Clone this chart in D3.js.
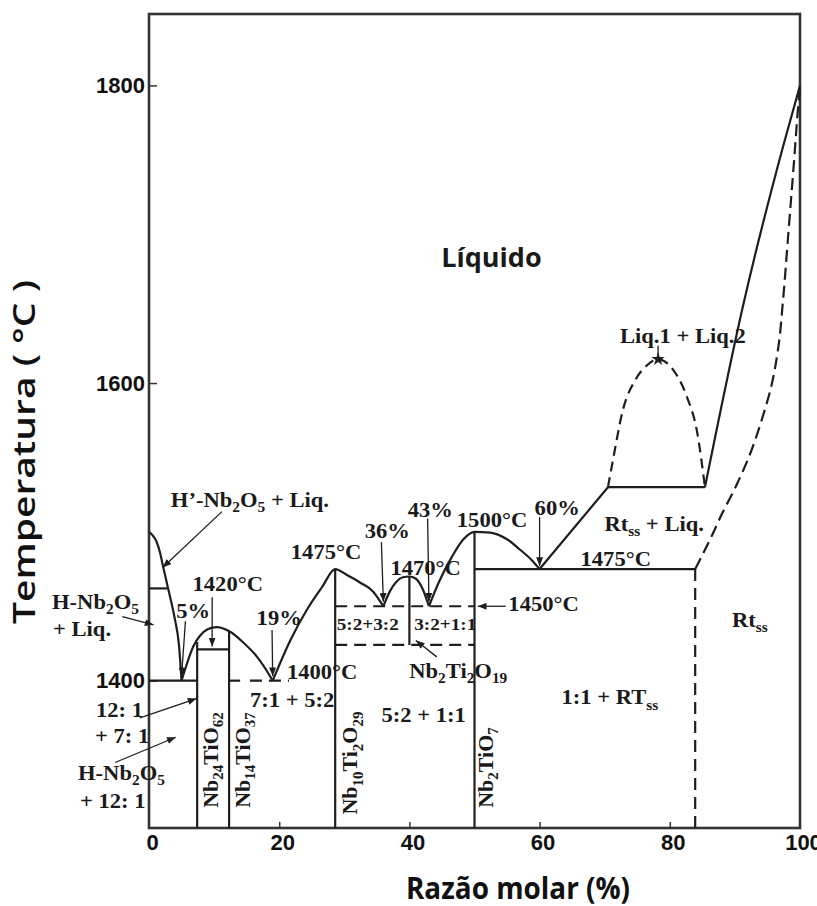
<!DOCTYPE html>
<html>
<head>
<meta charset="utf-8">
<script src="https://cdn.jsdelivr.net/npm/d3@7"></script>
<style>
  body { margin: 0; background: #fff; }
  svg { display: block; }
</style>
</head>
<body>
<svg id="chart" width="817" height="906"></svg>
<script>
// Nb2O5 – TiO2 phase diagram (composition in mol % TiO2, temperature in °C)

const xTicks = [0, 20, 40, 60, 80, 100];
const yTicks = [1400, 1600, 1800];
const xDomain = [0, 100];
const yDomain = [1301, 1848];

// liquidus branches, split at the eutectics
const liqNb2O5  = [[0,1500],[0.5,1498],[1.1,1494],[1.7,1486],[2.2,1476],[3.1,1459],[3.9,1443],[4.6,1424],[5,1400]];
const liq5to19  = [[5,1400],[5.5,1407],[6.8,1423],[7.8,1430],[9,1434.5],[10.4,1436],[12.4,1433],[14.4,1426],[16.6,1416],[18.6,1403],[19,1400]];
const liq19to36 = [[19,1400],[21.7,1427],[24.3,1448],[26.6,1463],[28.6,1475],[30.4,1471],[32.4,1466],[34.4,1460],[36,1450]];
const liq36to43 = [[36,1450],[37,1460],[38,1466.5],[39,1469.5],[40,1470],[41,1468.5],[42,1462],[43,1450]];
const liq43to60 = [[43,1450],[44.5,1466],[46.5,1483],[48.3,1495],[50,1500],[52.4,1499.5],[55,1495],[57,1488],[58.8,1481],[60,1475]];
const liq60to70 = [[60,1475],[70.5,1530]];
const liqRutile = [[85.4,1530],[91.2,1651],[97.4,1759],[100,1800]];

// liquid miscibility gap and rutile solid-solution solidus (dashed)
const missGap   = [[70.5,1530],[71.3,1549],[72.8,1582],[74.7,1602],[76.5,1612],[78.2,1616],[80.5,1609],[82.6,1591],[84.2,1567],[85.4,1530]];
const rtSolidus = [[83.9,1475],[84.6,1481],[86.2,1495],[88,1512],[90.2,1531],[92.3,1552],[94.1,1575],[95.6,1598],[96.7,1625],[97.4,1656],[98.2,1700],[99.1,1750],[99.7,1785],[100,1800]];
const criticalPoint = [78.2, 1616];

// compounds: composition, top of the line
const compoundX   = [7.4, 12.3, 28.6, 50];
const compoundTop = [1426, 1433, 1475, 1500];
const compoundNames = ["Nb_{24}TiO_{62}", "Nb_{14}TiO_{37}", "Nb_{10}Ti_{2}O_{29}", "Nb_{2}TiO_{7}"];

// isotherms and tie lines
const solidSegments = [
  [[0,1462],[2.8,1462]],
  [[0,1400],[7.4,1400]],
  [[7.4,1421],[12.3,1421]],
  [[12.3,1400],[14,1400]],
  [[40,1470],[40,1424]],
  [[50,1475],[83.9,1475]],
  [[70.5,1530],[85.4,1530]]
];
const dashedSegments = [
  [[15.5,1400],[21.5,1400]],
  [[28.6,1450],[50,1450]],
  [[28.6,1424],[50,1424]],
  [[83.9,1301],[83.9,1475]]
];

const svg = d3.select("#chart");
const x = d3.scaleLinear().domain(xDomain).range([149, 800]);
const y = d3.scaleLinear().domain(yDomain).range([828, 14]);

const ink = "#1e1e1e";
const serif = "'Liberation Serif','Times New Roman',serif";
const sans = "'Open Sans','Noto Sans',sans-serif";
const arial = "'Liberation Sans',Arial,sans-serif";

// arrowhead
svg.append("defs").append("marker")
  .attr("id", "arr").attr("viewBox", "0 0 10 8")
  .attr("refX", 10).attr("refY", 4)
  .attr("markerWidth", 9).attr("markerHeight", 7)
  .attr("markerUnits", "userSpaceOnUse").attr("orient", "auto")
  .append("path").attr("d", "M0,0L10,4L0,8Z").attr("fill", ink);

const line = d3.line().x(d => x(d[0])).y(d => y(d[1]));
const smooth = d3.line().x(d => x(d[0])).y(d => y(d[1])).curve(d3.curveMonotoneX);

const plot = svg.append("g");

// frame
plot.append("rect")
  .attr("x", x(0)).attr("y", y(yDomain[1]))
  .attr("width", x(100) - x(0)).attr("height", y(yDomain[0]) - y(yDomain[1]))
  .attr("fill", "none").attr("stroke", "#333").attr("stroke-width", 2.6);

// axes
const yAxis = d3.axisLeft(y).tickValues(yTicks).tickFormat(d3.format("d"))
  .tickSizeInner(-8).tickSizeOuter(0).tickPadding(4);
const gy = plot.append("g").attr("transform", `translate(${x(0)},0)`).call(yAxis);
gy.select(".domain").remove();
gy.selectAll(".tick line").attr("stroke", "#333").attr("stroke-width", 1.5);
gy.selectAll(".tick text").attr("font-family", arial).attr("font-weight", "bold")
  .attr("font-size", 22).attr("fill", "#111");

const xAxis = d3.axisBottom(x).tickValues(xTicks).tickFormat(d3.format("d"))
  .tickSizeInner(-6).tickSizeOuter(0).tickPadding(6);
const gx = plot.append("g").attr("transform", `translate(0,${y(yDomain[0])})`).call(xAxis);
gx.select(".domain").remove();
gx.selectAll(".tick line").attr("stroke", "#333").attr("stroke-width", 1.5)
  .attr("display", d => (d === 0 || d === 100) ? "none" : null);
gx.selectAll(".tick text").attr("font-family", arial).attr("font-weight", "bold")
  .attr("font-size", 22).attr("fill", "#111").attr("dx", 3);

// liquidus curves
[liqNb2O5, liq5to19, liq19to36, liq36to43, liq43to60, liqRutile].forEach(seg => {
  plot.append("path").attr("d", smooth(seg))
    .attr("fill", "none").attr("stroke", ink).attr("stroke-width", 2.2);
});
plot.append("path").attr("d", line(liq60to70))
  .attr("fill", "none").attr("stroke", ink).attr("stroke-width", 2.2);

// dashed boundaries
plot.append("path").attr("d", smooth(missGap))
  .attr("fill", "none").attr("stroke", ink).attr("stroke-width", 2.2).attr("stroke-dasharray", "10,6");
plot.append("path").attr("d", d3.line().x(d => x(d[0])).y(d => y(d[1])).curve(d3.curveMonotoneY)(rtSolidus))
  .attr("fill", "none").attr("stroke", ink).attr("stroke-width", 2.2).attr("stroke-dasharray", "12,6");

// compound lines
compoundX.forEach((cx, i) => {
  plot.append("path").attr("d", line([[cx, yDomain[0]], [cx, compoundTop[i]]]))
    .attr("stroke", ink).attr("stroke-width", 2.2);
});

solidSegments.forEach(s => {
  plot.append("path").attr("d", line(s)).attr("stroke", ink).attr("stroke-width", 2.2);
});
dashedSegments.forEach(s => {
  plot.append("path").attr("d", line(s)).attr("stroke", ink).attr("stroke-width", 2.2)
    .attr("stroke-dasharray", "12,7");
});

// critical point of the miscibility gap
plot.append("path")
  .attr("transform", `translate(${x(criticalPoint[0])},${y(criticalPoint[1])})`)
  .attr("d", d3.symbol(d3.symbolStar, 55)())
  .attr("fill", ink);

// pointer arrows [from, to] in data units
const arrows = [
  [[11.2,1513.6],[2.1,1476]],
  [[-4.1,1443],[0.7,1437.5]],
  [[-1.4,1375],[7.3,1388]],
  [[-5.2,1345],[4.1,1362]],
  [[5.6,1440],[5,1403]],
  [[9.7,1456],[9.7,1423]],
  [[18.9,1434],[19,1403]],
  [[35.7,1493],[36,1453]],
  [[42.8,1509],[43,1453]],
  [[60,1510],[60,1477]],
  [[54.8,1450],[50.5,1450]],
  [[44.2,1416],[41,1427]]
];
arrows.forEach(a => {
  plot.append("path").attr("d", line(a)).attr("stroke", ink).attr("stroke-width", 1.3)
    .attr("fill", "none").attr("marker-end", "url(#arr)");
});
plot.append("path").attr("d", line([[78.2,1625],[78.2,1617]])).attr("stroke", ink).attr("stroke-width", 1.3);

// text with subscripts written as _{..}
function rich(t, str, fs) {
  const parts = str.split(/(_\{[^}]*\})/).filter(s => s.length);
  let down = false;
  parts.forEach(p => {
    if (p.startsWith("_{")) {
      t.append("tspan").attr("font-size", fs * 0.68).attr("dy", down ? 0 : fs * 0.26).text(p.slice(2, -1));
      down = true;
    } else {
      t.append("tspan").attr("dy", down ? -fs * 0.26 : 0).text(p);
      down = false;
    }
  });
}
function label(str, px, py, o = {}) {
  const fs = o.fs || 20;
  const t = plot.append("text")
    .attr("transform", `translate(${px},${py}) rotate(${o.rot || 0}) scale(${o.sx || 1.13},1)`)
    .attr("font-family", o.font || serif).attr("font-weight", "bold")
    .attr("font-size", fs).attr("fill", "#1a1a1a")
    .attr("text-anchor", o.anchor || "middle");
  rich(t, str, fs);
  return t;
}

label("Líquido", x(52.6), y(1678), { font: sans, fs: 27, sx: 1 });
label("Liq.1 + Liq.2", x(82), y(1627));
label("Rt_{ss} + Liq.", x(77.6), y(1500.5));
label("Rt_{ss}", x(92.3), y(1436));
label("1475°C", x(71.7), y(1477));
label("60%", x(62.7), y(1511.6));
label("1500°C", x(52.7), y(1503));
label("43%", x(43.2), y(1510));
label("36%", x(36.6), y(1496));
label("1470°C", x(42.5), y(1471));
label("1475°C", x(27.2), y(1482));
label("5:2+3:2", x(33.6), y(1434), { fs: 17 });
label("3:2+1:1", x(45.5), y(1434), { fs: 17 });
label("1450°C", x(55.2), y(1446.5), { anchor: "start" });
label("Nb_{2}Ti_{2}O_{19}", x(47.5), y(1402));
label("5:2 + 1:1", x(42.2), y(1372));
label("1:1 + RT_{ss}", x(70.8), y(1384));
label("7:1 + 5:2", x(22), y(1382.5));
label("1400°C", x(26.6), y(1401));
label("19%", x(20), y(1437.6));
label("1420°C", x(12.1), y(1460.5));
label("5%", x(6.8), y(1442));
label("H’-Nb_{2}O_{5} + Liq.", x(15.5), y(1517));
label("H-Nb_{2}O_{5}", 52, y(1448.5), { anchor: "start" });
label("+ Liq.", 53, y(1430), { anchor: "start" });
label("12: 1", 96, y(1375.8), { anchor: "start" });
label("+ 7: 1", 95, y(1358.3), { anchor: "start" });
label("H-Nb_{2}O_{5}", 78, y(1333.4), { anchor: "start" });
label("+ 12: 1", 80, y(1314.6), { anchor: "start" });

// compound names, written upward along their lines
const nameX = [10.6, 15.5, 32, 52.8];
const nameStart = [1314.6, 1314.6, 1310, 1314.6];
compoundNames.forEach((n, i) => {
  label(n, x(nameX[i]), y(nameStart[i]), { rot: -90, anchor: "start", sx: 1.1 });
});

// axis titles
svg.append("text")
  .attr("transform", `translate(35,452) rotate(-90) scale(1.3,1)`)
  .attr("text-anchor", "middle").attr("font-family", sans).attr("font-weight", 600)
  .attr("font-size", 30).attr("fill", "#111").text("Temperatura ( °C )");
svg.append("text")
  .attr("transform", `translate(518,899) scale(0.93,1)`)
  .attr("text-anchor", "middle").attr("font-family", sans).attr("font-weight", "bold")
  .attr("font-size", 30).attr("fill", "#111").text("Razão molar (%)");
</script>
</body>
</html>
